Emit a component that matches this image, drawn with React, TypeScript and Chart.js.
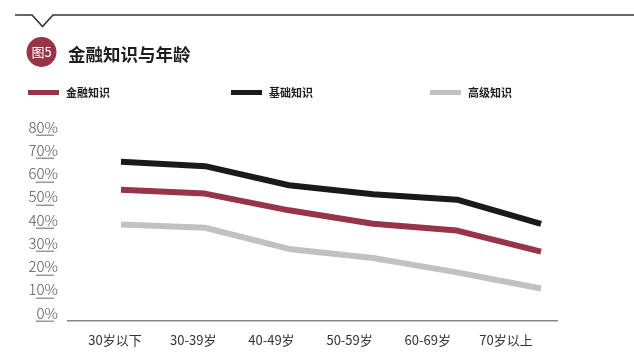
import React, { useEffect, useRef } from 'react';
import { Chart, registerables } from 'chart.js';

Chart.register(...registerables);

const categories = ['30岁以下', '30-39岁', '40-49岁', '50-59岁', '60-69岁', '70岁以上'];
const financialKnowledge = [56.5, 54.8, 47.6, 41.8, 38.9, 29.8];
const basicKnowledge = [68.5, 66.6, 58.4, 54.5, 52.2, 41.8];
const advancedKnowledge = [41.5, 40.1, 31.0, 27.1, 20.9, 14.0];
const seriesNames = ['金融知识', '基础知识', '高级知识'];
const yMin = 0;
const yMax = 80;
const yStep = 10;

const RED = '#983447';
const BLACK = '#1a1a1a';
const GRAY = '#c1c1c1';
const FONT = '"Noto Sans CJK SC", "Noto Sans", sans-serif';

export default function App() {
  const canvasRef = useRef<HTMLCanvasElement>(null);

  useEffect(() => {
    const canvas = canvasRef.current;
    if (!canvas) return;

    const tickUnderline = {
      id: 'tickUnderline',
      afterDraw(chart: any) {
        const ctx = chart.ctx;
        const y = chart.scales.y;
        ctx.save();
        ctx.strokeStyle = '#999999';
        ctx.lineWidth = 1.5;
        y.ticks.forEach((t: any) => {
          const py = Math.round(y.getPixelForValue(t.value)) + 0.25;
          ctx.beginPath();
          ctx.moveTo(y.right - 32, py);
          ctx.lineTo(y.right - 14, py);
          ctx.stroke();
        });
        ctx.restore();
      },
    };

    const toPoints = (arr: number[]) => arr.map((v, i) => ({ x: i, y: v }));
    const mk = (label: string, data: number[], color: string) => ({
      label,
      data: toPoints(data),
      borderColor: color,
      backgroundColor: color,
      borderWidth: 6,
      pointRadius: 0,
      pointHoverRadius: 0,
      tension: 0,
      borderCapStyle: 'butt' as const,
      borderJoinStyle: 'round' as const,
      fill: false,
      xAxisID: 'x',
      yAxisID: 'y',
    });

    const chart = new Chart(canvas, {
      type: 'line',
      data: {
        datasets: [
          mk(seriesNames[0], financialKnowledge, RED),
          mk(seriesNames[1], basicKnowledge, BLACK),
          mk(seriesNames[2], advancedKnowledge, GRAY),
        ],
      },
      options: {
        animation: false,
        responsive: false,
        maintainAspectRatio: false,
        layout: { padding: { top: 135, right: 77, left: 0, bottom: 0 } },
        plugins: {
          legend: { display: false },
          tooltip: { enabled: false },
          title: { display: false },
        },
        scales: {
          x: {
            type: 'linear',
            display: false,
            min: -0.631,
            max: 5.19,
          },
          xl: {
            type: 'linear',
            position: 'bottom',
            min: -0.601,
            max: 5.652,
            afterBuildTicks: (s: any) => {
              s.ticks = categories.map((_, i) => ({ value: i }));
            },
            afterFit: (s: any) => {
              s.height = 41;
            },
            ticks: {
              autoSkip: false,
              maxRotation: 0,
              padding: 11,
              color: '#333333',
              font: { family: FONT, size: 13 },
              callback: (_v: any, i: number) => categories[i],
            },
            grid: { drawOnChartArea: false, drawTicks: false },
            border: { display: true, color: '#888888', width: 1.5 },
          },
          y: {
            type: 'linear',
            min: yMin,
            max: yMax,
            afterFit: (s: any) => {
              s.width = 68;
            },
            ticks: {
              stepSize: yStep,
              labelOffset: -8,
              padding: 10,
              color: '#555555',
              font: { family: FONT, size: 15, weight: 300 as any },
              callback: (v: any) => `${v}%`,
            },
            grid: { display: false, drawTicks: false },
            border: { display: false },
          },
        },
      },
      plugins: [tickUnderline],
    });

    return () => chart.destroy();
  }, []);

  const legendItems = [
    { name: seriesNames[0], color: RED, left: 28 },
    { name: seriesNames[1], color: BLACK, left: 231 },
    { name: seriesNames[2], color: GRAY, left: 430 },
  ];

  return (
    <div style={{ position: 'absolute', left: 0, top: 0, width: 634, height: 362, background: '#ffffff', overflow: 'hidden', fontFamily: FONT }}>
      <canvas ref={canvasRef} width={634} height={362} style={{ position: 'absolute', left: 0, top: 0, width: 634, height: 362 }} />
      <svg width={634} height={362} style={{ position: 'absolute', left: 0, top: 0, pointerEvents: 'none' }}>
        <polyline points="15,15 32,15 42.5,26.5 53,15 634,15" fill="none" stroke="#333333" strokeWidth={1.6} />
        <circle cx={41.5} cy={52} r={15} fill="#983447" />
      </svg>
      <div style={{ position: 'absolute', left: 26, top: 43, width: 31, textAlign: 'center', color: '#ffffff', fontSize: 13, lineHeight: '18px' }}>图5</div>
      <div style={{ position: 'absolute', left: 68, top: 42, color: '#1e1e1e', fontSize: 17.5, fontWeight: 700, lineHeight: '24px', whiteSpace: 'nowrap' }}>金融知识与年龄</div>
      {legendItems.map((it) => (
        <div key={it.name} style={{ position: 'absolute', left: it.left, top: 84, height: 16, display: 'flex', alignItems: 'center', whiteSpace: 'nowrap' }}>
          <span style={{ display: 'inline-block', width: 31, height: 5, background: it.color, marginRight: 7 }} />
          <span style={{ fontSize: 11, fontWeight: 700, color: '#1e1e1e', lineHeight: '16px' }}>{it.name}</span>
        </div>
      ))}
    </div>
  );
}
